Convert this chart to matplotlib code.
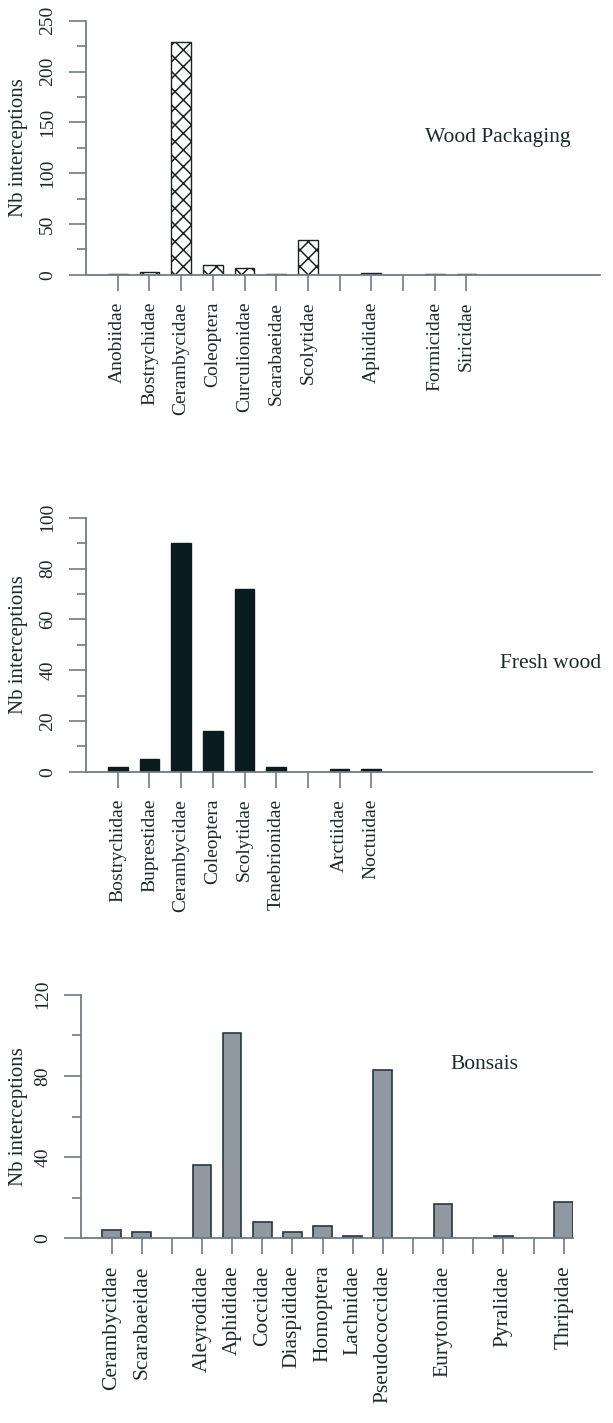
import matplotlib
matplotlib.use("Agg")
import matplotlib.pyplot as plt
from matplotlib.ticker import MultipleLocator

# Wood packaging
wood_cats = ["Anobiidae", "Bostrychidae", "Cerambycidae", "Coleoptera", "Curculionidae",
             "Scarabaeidae", "Scolytidae", "", "Aphididae", "", "Formicidae", "Siricidae"]
wood_vals = [1, 3, 229, 10, 7, 1, 34, None, 2, None, 1, 1]

# Fresh wood
fresh_cats = ["Bostrychidae", "Buprestidae", "Cerambycidae", "Coleoptera", "Scolytidae",
              "Tenebrionidae", "", "Arctiidae", "Noctuidae"]
fresh_vals = [2, 5, 90, 16, 72, 2, None, 1, 1]

# Bonsais
bonsai_cats = ["Cerambycidae", "Scarabaeidae", "", "Aleyrodidae", "Aphididae", "Coccidae",
               "Diaspididae", "Homoptera", "Lachnidae", "Pseudococcidae", "", "Eurytomidae",
               "", "Pyralidae", "", "Thripidae"]
bonsai_vals = [4, 3, None, 36, 101, 8, 3, 6, 1, 83, None, 17, None, 1, None, 18]

plt.rcParams['font.family'] = ['Liberation Serif', 'DejaVu Serif']
plt.rcParams['hatch.linewidth'] = 1.1
axis_col = '#6f7d84'
text_col = '#1c2a2c'

W, H = 613, 1423
fig = plt.figure(figsize=(W / 100, H / 100), dpi=100)


def panel(left, y0, ytop, unit, xmax, cats, vals, ymax, major, minor, title, tx, ty,
          xfs=14, **bar_kw):
    ax = fig.add_axes([left / W, 1 - y0 / H, unit * xmax / W, (y0 - ytop) / H])
    pos = [i + 1 for i in range(len(cats))]
    xs = [p for p, v in zip(pos, vals) if v is not None]
    hs = [v for v in vals if v is not None]
    ax.bar(xs, hs, width=0.62, **bar_kw)
    ax.set_xlim(0, xmax)
    ax.set_ylim(0, ymax)
    ax.set_xticks(pos)
    ax.set_xticklabels(cats, rotation=90, fontsize=xfs, color=text_col)
    ax.yaxis.set_major_locator(MultipleLocator(major))
    ax.yaxis.set_minor_locator(MultipleLocator(minor))
    for lab in ax.get_yticklabels():
        lab.set_rotation(90)
        lab.set_va('center')
    ax.tick_params(axis='y', which='major', length=12.5, width=1.2, color=axis_col,
                   labelsize=14, labelcolor=text_col, pad=9)
    ax.tick_params(axis='y', which='minor', length=6.5, width=1.2, color=axis_col)
    ax.tick_params(axis='x', length=11.5, width=1.2, color=axis_col, pad=8)
    for s in ['top', 'right']:
        ax.spines[s].set_visible(False)
    ax.spines['left'].set_bounds(0, ymax)
    ax.spines['left'].set_color(axis_col)
    ax.spines['bottom'].set_color(axis_col)
    ax.spines['left'].set_linewidth(1.3)
    ax.spines['bottom'].set_linewidth(1.3)
    ax.set_ylabel('Nb interceptions', fontsize=15, color=text_col)
    ax.yaxis.set_label_coords(-(left - 28) / (unit * xmax), 0.5)
    fig.text(tx / W, 1 - ty / H, title, fontsize=15.5, color=text_col, va='baseline')
    return ax


panel(86, 274.7, 20.7, 31.7, 16.2, wood_cats, wood_vals, 250, 50, 25,
      'Wood Packaging', 425, 141.7,
      color='white', edgecolor='#1a2224', hatch='xx', linewidth=1.0)

panel(86, 771.7, 517.7, 31.7, 15.95, fresh_cats, fresh_vals, 100, 20, 10,
      'Fresh wood', 500, 668,
      color='#0b1c1e', edgecolor='#0b1c1e', linewidth=1.0)

panel(81.4, 1238.3, 994.7, 30.14, 16.31, bonsai_cats, bonsai_vals, 120, 40, 20,
      'Bonsais', 450, 1069, xfs=15.5,
      color='#9098a2', edgecolor='#253a40', linewidth=1.2)

fig.savefig('out.png', dpi=100)
